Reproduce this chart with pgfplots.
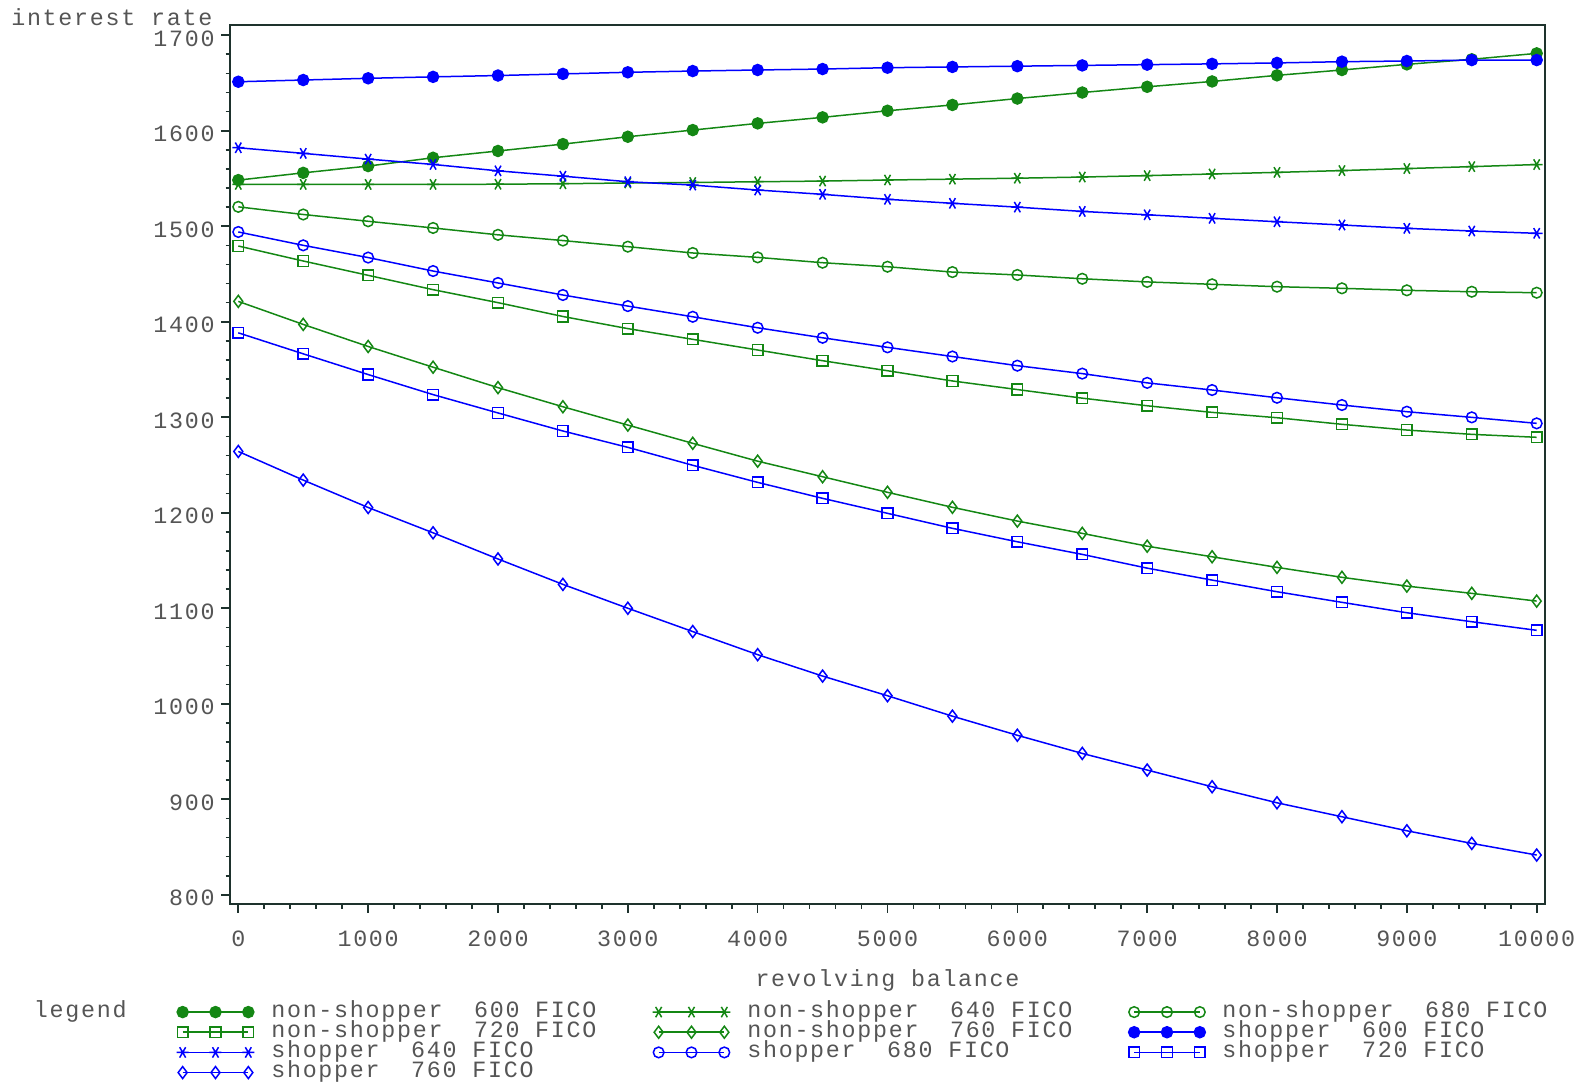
\documentclass[border=0pt]{standalone}
\usepackage{pgfplots}
\pgfplotsset{compat=1.18}
\usepackage{pgfplotstable}
\usepackage{fontspec}
\setmainfont{Liberation Mono}[LetterSpace=7.4]
\definecolor{sgreen}{RGB}{20,135,20}
\definecolor{sblue}{RGB}{0,0,255}
\definecolor{txt}{RGB}{85,85,85}
\definecolor{frm}{RGB}{30,50,45}
\pgfplotstableread{
x ns600 ns640 ns680 ns720 ns760 s600 s640 s680 s720 s760
0 1548.3 1543.8 1520.3 1479.3 1421.3 1651.3 1582.2 1494.0 1388.4 1264.2
500 1555.9 1543.8 1512.3 1463.6 1397.2 1653.1 1576.3 1480.0 1366.4 1234.2
1000 1563.0 1543.8 1505.2 1448.6 1374.1 1654.9 1570.3 1467.2 1344.7 1205.5
1500 1571.7 1543.8 1498.2 1433.6 1352.4 1656.4 1564.7 1453.1 1323.7 1179.0
2000 1578.8 1544.0 1491.0 1420.0 1331.0 1657.8 1558.0 1440.6 1304.5 1151.6
2500 1586.0 1544.5 1485.0 1405.5 1311.0 1659.5 1552.4 1428.0 1285.6 1125.0
3000 1593.7 1545.3 1478.6 1392.8 1291.8 1661.2 1546.6 1416.4 1268.5 1100.0
3500 1600.7 1545.8 1472.0 1381.6 1272.7 1662.5 1543.1 1405.2 1249.7 1075.6
4000 1607.7 1546.6 1467.4 1370.4 1254.0 1663.6 1537.9 1393.7 1231.8 1051.4
4500 1614.0 1547.3 1461.8 1359.2 1237.7 1664.6 1533.4 1383.2 1215.1 1029.0
5000 1620.9 1548.4 1457.6 1348.7 1221.4 1666.0 1528.2 1373.2 1199.4 1008.4
5500 1627.0 1549.3 1452.0 1338.0 1205.7 1666.8 1524.0 1363.6 1183.7 987.0
6000 1633.7 1550.3 1449.0 1329.0 1191.3 1667.6 1520.0 1354.0 1169.6 967.0
6500 1640.0 1551.5 1445.0 1320.0 1178.4 1668.4 1515.5 1345.7 1156.4 948.0
7000 1646.0 1553.0 1441.7 1312.0 1165.0 1669.2 1512.0 1336.0 1142.0 930.6
7500 1651.6 1554.7 1439.2 1305.1 1153.9 1670.0 1508.3 1328.5 1129.5 913.1
8000 1658.0 1556.4 1436.7 1299.5 1142.8 1671.0 1504.7 1320.4 1117.3 896.3
8500 1663.6 1558.3 1435.0 1292.6 1132.4 1672.3 1501.3 1312.8 1106.2 881.7
9000 1669.5 1560.4 1432.9 1286.6 1123.2 1673.0 1497.8 1305.8 1095.3 867.0
9500 1674.8 1562.4 1431.4 1282.1 1115.6 1674.0 1495.0 1299.9 1085.9 853.8
10000 1681.0 1564.6 1430.4 1279.0 1107.5 1674.0 1492.6 1293.6 1076.9 841.6
}\data
\newcommand{\lbox}[1]{\makebox[109.3pt][l]{#1}}
\begin{document}
\begin{tikzpicture}
\begin{axis}[
  scale only axis, width=394.5pt, height=263.8pt,
  xmin=-64, xmax=10064, ymin=790, ymax=1710.7,
  xtick={0,1000,...,10000}, ytick={800,900,...,1700},
  minor x tick num=4, minor y tick num=4,
  xtick pos=bottom, ytick pos=left, tick align=outside,
  major tick length=2.6pt, minor tick length=1.3pt,
  scaled ticks=false,
  /pgf/number format/assume math mode=true,
  /pgf/number format/1000 sep={},
  axis line style={frm, line width=0.6pt},
  every tick/.style={frm, line width=0.5pt},
  tick label style={font=\fontsize{7}{8}\selectfont, text=txt},
  xticklabel style={anchor=base, yshift=-10pt, inner sep=0pt},
  yticklabel style={anchor=east, xshift=-1.8pt, yshift=-1pt, inner sep=0pt},
  xlabel={revolving balance},
  xlabel style={at={(axis description cs:0.5,0)}, anchor=base, yshift=-24.8pt, inner sep=0pt, font=\fontsize{7}{8}\selectfont, text=txt},
  clip mode=individual,
  every axis plot/.append style={line width=0.45pt},
  legend columns=3,
  legend image code/.code={\draw[mark repeat=1,mark phase=1] plot coordinates {(0pt,0pt) (9.85pt,0pt) (19.7pt,0pt)};},
  legend style={at={(rel axis cs:0,0)}, anchor=north west, xshift=-16pt, yshift=-29.3pt,
    draw=none, fill=none, inner sep=0pt, outer sep=0pt, row sep=0pt, column sep=5.1pt,
    font=\fontsize{7}{8}\selectfont, text=txt,
    nodes={inner sep=0pt, text height=4.6pt, text depth=1.45pt}},
  legend cell align=left,
]
\addplot[sgreen, mark=*, mark size=1.65pt, mark options={fill=sgreen}] table[x=x,y=ns600] {\data};
\addlegendentry{\lbox{non-shopper~~600~FICO}}
\addplot[sgreen, mark=asterisk, mark size=1.8pt, mark options={rotate=90}] table[x=x,y=ns640] {\data};
\addlegendentry{\lbox{non-shopper~~640~FICO}}
\addplot[sgreen, mark=o, mark size=1.6pt] table[x=x,y=ns680] {\data};
\addlegendentry{non-shopper~~680~FICO}
\addplot[sgreen, mark=square, mark size=1.6pt] table[x=x,y=ns720] {\data};
\addlegendentry{\lbox{non-shopper~~720~FICO}}
\addplot[sgreen, mark=diamond, mark size=1.8pt] table[x=x,y=ns760] {\data};
\addlegendentry{\lbox{non-shopper~~760~FICO}}
\addplot[sblue, mark=*, mark size=1.65pt, mark options={fill=sblue}] table[x=x,y=s600] {\data};
\addlegendentry{shopper~~600~FICO}
\addplot[sblue, mark=asterisk, mark size=1.8pt, mark options={rotate=90}] table[x=x,y=s640] {\data};
\addlegendentry{\lbox{shopper~~640~FICO}}
\addplot[sblue, mark=o, mark size=1.6pt] table[x=x,y=s680] {\data};
\addlegendentry{\lbox{shopper~~680~FICO}}
\addplot[sblue, mark=square, mark size=1.6pt] table[x=x,y=s720] {\data};
\addlegendentry{shopper~~720~FICO}
\addplot[sblue, mark=diamond, mark size=1.8pt] table[x=x,y=s760] {\data};
\addlegendentry{\lbox{shopper~~760~FICO}}
\node[anchor=base east, inner sep=0pt, font=\fontsize{7}{8}\selectfont, text=txt] at (rel axis cs:0,1) [xshift=-5.1pt] {interest rate};
\node[anchor=base west, inner sep=0pt, font=\fontsize{7}{8}\selectfont, text=txt] at (rel axis cs:0,0) [xshift=-59pt, yshift=-33.9pt] {legend};
\coordinate (bl) at (rel axis cs:0,0);
\coordinate (tr) at (rel axis cs:1,1);
\end{axis}
\pgfresetboundingbox
\path[use as bounding box] ([shift={(-69pt,-54.8pt)}]bl) rectangle ([shift={(11.1pt,7.5pt)}]tr);
\end{tikzpicture}
\end{document}
